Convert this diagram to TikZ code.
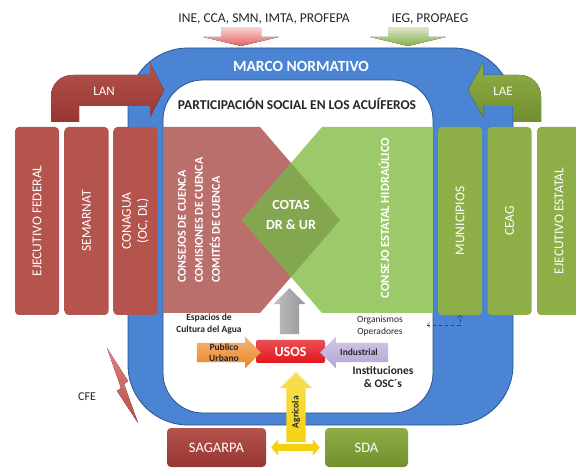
\documentclass[tikz,border=0pt]{standalone}
\usepackage{fontspec}
\setmainfont{Carlito}
\usetikzlibrary{arrows.meta,positioning,shapes.arrows}
\definecolor{frameblue}{HTML}{4A84D2}
\definecolor{frameedge}{HTML}{2C5590}
\definecolor{fedred}{HTML}{963532}
\definecolor{fedredlt}{HTML}{B5534D}
\definecolor{estgreen}{HTML}{728F2F}
\definecolor{estgreenlt}{HTML}{8EAE47}
\definecolor{cuencared}{HTML}{BA6F6D}
\definecolor{hidrogreen}{HTML}{9CC96A}
\definecolor{cotasgreen}{HTML}{83A64F}
\definecolor{usosred}{HTML}{E3151B}
\definecolor{urbanorange}{HTML}{EC8424}
\definecolor{induslilac}{HTML}{B4A4D6}
\definecolor{agriyellow}{HTML}{F5D10F}
\definecolor{upgray}{HTML}{959595}
\definecolor{inered}{HTML}{E2625E}
\definecolor{ieggreen}{HTML}{86AB45}
\definecolor{inkdark}{HTML}{262626}
\definecolor{opsblue}{HTML}{2A3F6E}
\tikzset{
  colbox/.style={
    rectangle, rounded corners=4pt, rotate=90, inner sep=0pt,
    minimum width=188pt, minimum height=44pt, align=center,
    text=white, font=\fontsize{13.5}{16}\selectfont
  },
  fedcol/.style={colbox, top color=fedredlt, middle color=fedred, bottom color=fedredlt},
  estcol/.style={colbox, top color=estgreenlt, middle color=estgreen, bottom color=estgreenlt},
  bigtext/.style={text=white, font=\bfseries\fontsize{12}{17}\selectfont, rotate=90, align=left},
  boxlabel/.style={text=white, font=\fontsize{13}{15}\selectfont},
  darktext/.style={text=inkdark, align=center, font=\bfseries\fontsize{9.5}{11.5}\selectfont},
  blockarrow/.style={
    single arrow, single arrow head extend=6pt, inner xsep=0pt,
    text=inkdark, align=center, font=\bfseries\fontsize{9.5}{10.5}\selectfont
  },
  basebox/.style={
    rectangle, rounded corners=4pt, minimum height=39pt,
    text=white, font=\fontsize{14.5}{16}\selectfont
  },
  agrilink/.style={
    draw=agriyellow, line width=7pt, shorten <=5pt, shorten >=5pt,
    {Triangle[width=16pt,length=7pt]}-{Triangle[width=16pt,length=7pt]}
  },
  opslink/.style={
    dashed, thin, draw=opsblue,
    {Straight Barb[length=2.5pt,width=5pt]}-{Straight Barb[length=2.5pt,width=5pt]}
  },
}

\begin{document}
\begin{tikzpicture}[x=1pt, y=-1pt]
  \useasboundingbox (0,0) rectangle (576,470);
  \clip (0,0) rectangle (576,470);
  \fill[white] (0,0) rectangle (576,470);

  % marco normativo
  \filldraw[fill=frameblue, draw=frameedge, line width=0.8pt, even odd rule]
    [rounded corners=60pt] (128,48) rectangle (513,425)
    [rounded corners=40pt] (163,80) rectangle (433,413);

  % federal and state bodies coming in from above
  \foreach \cx/\col in {241/inered, 408/ieggreen}
    \fill[top color=\col!30, bottom color=\col]
      (\cx-20,28) -- (\cx+20,28) -- (\cx+20,37) -- (\cx+38,37) -- (\cx,46)
      -- (\cx-38,37) -- (\cx-20,37) -- cycle;
  \node[text=inkdark, font=\fontsize{13.5}{15}\selectfont] (ine) at (264,19) {INE, CCA, SMN, IMTA, PROFEPA};
  \node[text=inkdark, font=\fontsize{13.5}{15}\selectfont] (ieg) at (430,19) {IEG, PROPAEG};

  % the two water laws
  \fill[top color=fedredlt, bottom color=fedred]
    (51,122) -- (51,97) .. controls (51,84) and (60,75) .. (73,75) -- (150,75)
    -- (150,63) -- (164,90) -- (150,117) -- (150,106) -- (79,106) -- (79,122) -- cycle;
  \fill[top color=estgreenlt, bottom color=estgreen]
    (541,122) -- (541,97) .. controls (541,84) and (532,75) .. (519,75) -- (483,75)
    -- (483,63) -- (468,90) -- (483,117) -- (483,106) -- (513,106) -- (513,122) -- cycle;
  \node[boxlabel] (lan) at (104,91) {LAN};
  \node[boxlabel] (lae) at (503,91) {LAE};

  \node[text=white, font=\bfseries\fontsize{15.5}{17}\selectfont] (marco) at (301,66) {MARCO NORMATIVO};
  \node[text=inkdark, font=\bfseries\fontsize{13.5}{15}\selectfont] (partic) at (297,104) {PARTICIPACIÓN SOCIAL EN LOS ACUÍFEROS};

  % columns
  \node[fedcol] (ejfed) at (37,221) {EJECUTIVO FEDERAL};
  \node[fedcol] (semarnat) at (86.5,221) {SEMARNAT};
  \node[fedcol] (conagua) at (135.5,221) {CONAGUA\\(OC, DL)};
  \node[estcol] (municipios) at (460,221) {MUNICIPIOS};
  \node[estcol] (ceag) at (509.5,221) {CEAG};
  \node[estcol] (ejest) at (559,221) {EJECUTIVO ESTATAL};

  % cuencas / consejo estatal / cotas
  \fill[cuencared] (163,127) -- (260,127) -- (340,220) -- (260,313) -- (163,313) -- cycle;
  \fill[hidrogreen] (433,127) -- (322,127) -- (242,220) -- (322,313) -- (433,313) -- cycle;
  \fill[cotasgreen] (291,163) -- (340,220) -- (291,277) -- (242,220) -- cycle;
  \node[bigtext] (cuencas) at (199,220) {CONSEJOS DE CUENCA\\COMISIONES DE CUENCA\\COMITÉS DE CUENCA};
  \node[bigtext, font=\bfseries\fontsize{12.5}{14}\selectfont] (hidro) at (384,218) {CONSEJO ESTATAL HIDRAÚLICO};
  \node[text=white, align=center, font=\bfseries\fontsize{14}{20}\selectfont] (cotas) at (291,215) {COTAS\\DR \& UR};

  % usos del agua
  \node[rectangle, rounded corners=2pt, minimum width=69pt, minimum height=23pt,
    top color=usosred!75, bottom color=usosred, text=white,
    font=\bfseries\fontsize{14}{16}\selectfont] (usos) at (290.5,351.5) {USOS};
  \node[blockarrow, inner sep=9pt, minimum height=46pt, minimum width=32pt, shape border rotate=90,
    left color=upgray!60, right color=upgray] (usosup) at (289.5,316) {};
  \node[blockarrow, inner ysep=0.8pt, minimum height=64pt, minimum width=31pt,
    top color=urbanorange!60, bottom color=urbanorange] (urbano) at (224,352.5) {Publico\\Urbano};
  \node[blockarrow, inner ysep=6pt, minimum height=68pt, minimum width=31pt, shape border rotate=180,
    top color=induslilac!60, bottom color=induslilac] (industrial) at (359,352.5) {Industrial};

  \node[darktext] (espacios) at (209,324) {Espacios de\\Cultura del Agua};
  \node[darktext, font=\fontsize{9.5}{11.5}\selectfont] (organismos) at (380,326) {Organismos\\Operadores};
  \node[darktext, font=\bfseries\fontsize{11.5}{13.5}\selectfont] (instituciones) at (383,377) {Instituciones\\\& OSC´s};

  % agricultura
  \node[basebox, minimum width=99pt, top color=fedredlt, bottom color=fedred] (sagarpa) at (216.5,447.5) {SAGARPA};
  \node[basebox, minimum width=83pt, top color=estgreenlt, bottom color=estgreen] (sda) at (366.5,447.5) {SDA};
  \draw[agrilink] (sagarpa) -- (sda);
  \node[blockarrow, rotate=90, inner ysep=4.5pt, minimum height=70pt, minimum width=32pt,
    top color=agriyellow!70, bottom color=agriyellow] (agricola) at (296,412) {Agrícola};

  % cfe
  \node[text=inkdark, font=\fontsize{12}{14}\selectfont] (cfe) at (87,397) {CFE};
  \fill[top color=inered!80, bottom color=inered!80!black]
    (107,348) -- (128,381) -- (124,384) -- (138,423) -- (117,391) -- (121,388) -- cycle;

  % organismos operadores y municipios
  \coordinate (opstip) at (427,325);
  \draw[opslink] (opstip) -| (municipios.west);
\end{tikzpicture}
\end{document}
